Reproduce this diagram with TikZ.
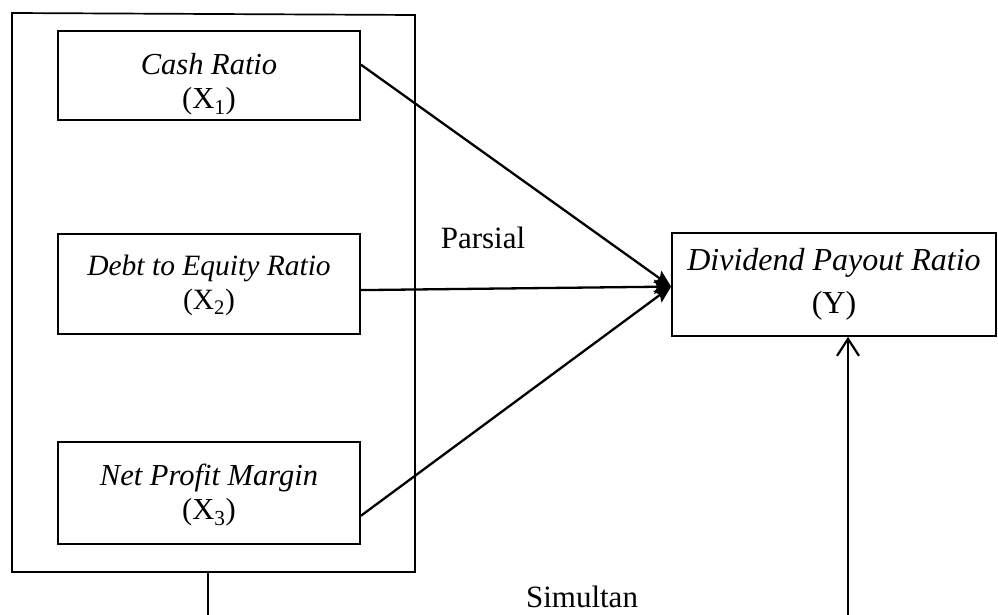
\documentclass[tikz,border=0pt]{standalone}
\usepackage{fontspec}
\setmainfont{Liberation Serif}
\usetikzlibrary{arrows.meta,calc}

\tikzset{
  varbox/.style={draw, line width=1.7pt, rectangle, inner sep=0pt,
    minimum width=302pt},
  boxtext/.style={align=center, inner sep=0pt,
    font=\fontsize{30.5}{34}\selectfont},
  ytext/.style={align=center, inner sep=0pt,
    font=\fontsize{32}{43}\selectfont},
  plain/.style={inner sep=0pt, font=\fontsize{31}{36}\selectfont},
  partial/.style={line width=2.3pt, -{Stealth[length=17pt,width=14pt,inset=3pt]}},
  joint/.style={line width=2.2pt, -{Straight Barb[length=17pt,width=22pt]}},
}

\begin{document}
\begin{tikzpicture}[x=1pt,y=-1pt]
  \useasboundingbox (0,0) rectangle (998,615);

  % frame around the three independent variables
  \draw[line width=1.7pt] (12,13) -- (415,15) -- (415,572) -- (12,572) -- cycle;
  \coordinate (groupfoot) at (208,572);
  \coordinate (groupend) at (208,615);

  % independent variables
  \node[varbox, minimum height=89pt] (b1) at (209,75.5) {};
  \node[boxtext] (t1) at ([yshift=-9pt]b1.center) {\textit{Cash Ratio}\\(X\textsubscript{1})};

  \node[varbox, minimum height=100pt] (b2) at (209,284) {};
  \node[boxtext, font=\fontsize{29.5}{34}\selectfont] (t2) at ([yshift=-1.5pt]b2.center) {\textit{Debt to Equity Ratio}\\(X\textsubscript{2})};

  \node[varbox, minimum height=102pt] (b3) at (209,493) {};
  \node[boxtext] (t3) at ([yshift=-2.5pt]b3.center) {\textit{Net Profit Margin}\\(X\textsubscript{3})};

  % dependent variable
  \node[draw, line width=1.7pt, rectangle, inner sep=0pt,
        minimum width=324pt, minimum height=103pt] (yb) at (834,284.5) {};
  \node[ytext] (ty) at ([yshift=0.5pt]yb.center) {\textit{Dividend Payout Ratio}\\(Y)};

  % partial effects
  \coordinate (hit) at ($(yb.north west)!0.52!(yb.south west)$);
  \draw[partial] ($(b1.north east)!0.38!(b1.south east)$) -- (hit);
  \draw[partial] ($(b2.north east)!0.56!(b2.south east)$) -- (hit);
  \draw[partial] ($(b3.north east)!0.72!(b3.south east)$) -- (hit);

  % simultaneous effect
  \draw[line width=1.4pt] (groupfoot) -- (groupend);
  \coordinate (jointend) at (848,615);
  \draw[joint] (jointend) -- (jointend |- yb.south);

  % labels
  \node[plain] (lp) at (483,238) {Parsial};
  \node[plain] (ls) at (582,597) {Simultan};
\end{tikzpicture}
\end{document}
